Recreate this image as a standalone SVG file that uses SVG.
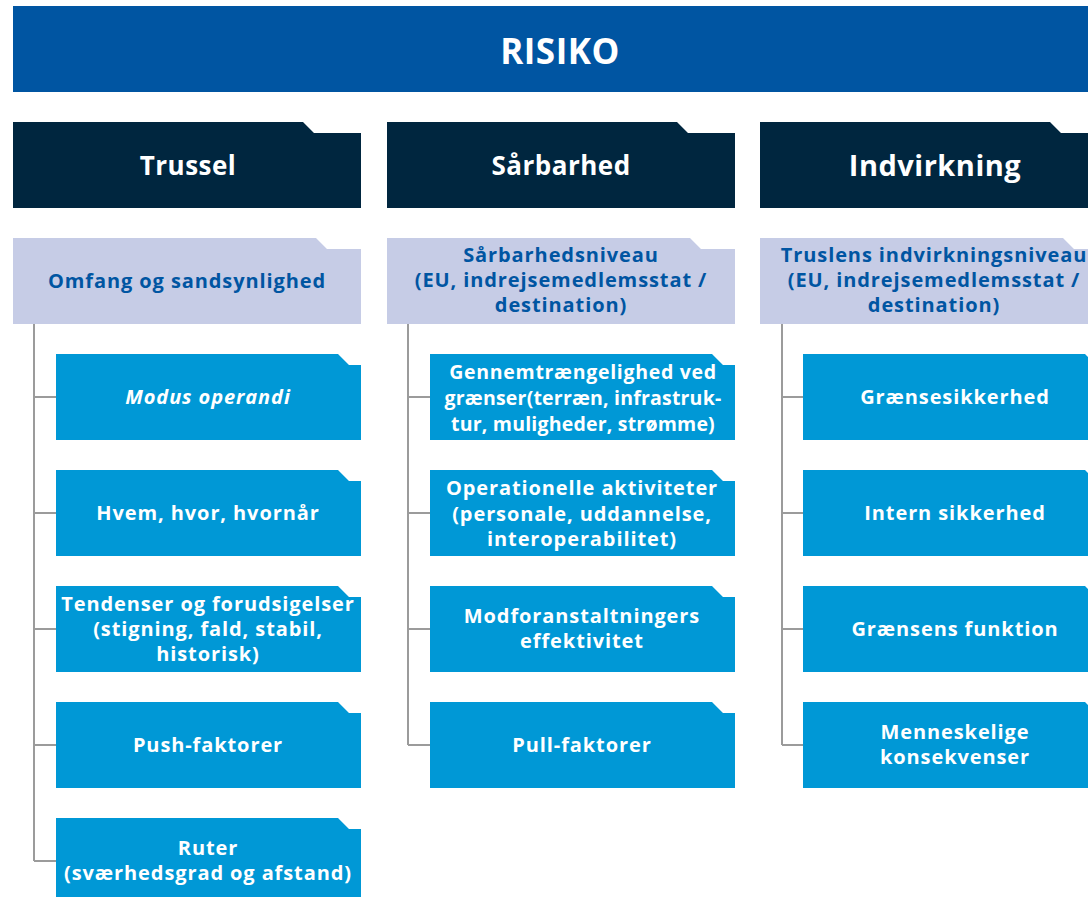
<svg xmlns="http://www.w3.org/2000/svg" xmlns:xlink="http://www.w3.org/1999/xlink" width="1088" height="897" viewBox="0 0 1088 897">
<style>
text{font-family:"Open Sans","Noto Sans","Liberation Sans",sans-serif;font-weight:700;text-anchor:middle}
.banner{fill:#0055A2}
.hdr{fill:#00263F}
.sub{fill:#C6CCE6}
.child{fill:#0098D6}
.t-banner{fill:#fff;font-size:35px;letter-spacing:0.5px}
.t-hdr{fill:#fff;font-size:26px;letter-spacing:0.5px}
.t-sub{fill:#0055A2;font-size:20px;letter-spacing:0.9px}
.t-child{fill:#fff;font-size:20px;letter-spacing:0.9px}
.tight{font-size:19.5px;letter-spacing:0.2px}
.conn{stroke:#9B9B9B;stroke-width:2;fill:none}
</style>
<defs>
<path id="hdrShape" d="M0,0 H290 L301,11 H348 V86 H0 Z"/>
<path id="subShape" d="M0,0 H303 L314,11 H348 V86 H0 Z"/>
<path id="childShape" d="M0,0 H282 L293,11 H305 V86 H0 Z"/>
</defs>
<rect width="1088" height="897" fill="#fff"/>

<g id="connectors">
<path class="conn" d="M34,324 V861 M34,397 H56 M34,513 H56 M34,629 H56 M34,745 H56 M34,861 H56"/>
<path class="conn" d="M408,324 V745 M408,397 H430 M408,513 H430 M408,629 H430 M408,745 H430"/>
<path class="conn" d="M782,324 V745 M782,397 H803 M782,513 H803 M782,629 H803 M782,745 H803"/>
</g>

<g id="risiko">
<rect class="banner" x="13" y="6" width="1094" height="86"/>
<text class="t-banner" x="560" y="64">RISIKO</text>
</g>

<g id="trussel">
<use xlink:href="#hdrShape" class="hdr" x="13" y="122"/>
<text class="t-hdr" x="188" y="175">Trussel</text>
</g>
<g id="saarbarhed">
<use xlink:href="#hdrShape" class="hdr" x="387" y="122"/>
<text class="t-hdr" x="561" y="175">Sårbarhed</text>
</g>
<g id="indvirkning">
<use xlink:href="#hdrShape" class="hdr" x="760" y="122"/>
<text class="t-hdr" x="935" y="176" style="font-size:29px">Indvirkning</text>
</g>

<g id="omfang">
<use xlink:href="#subShape" class="sub" x="13" y="238"/>
<text class="t-sub" x="187" y="288">Omfang og sandsynlighed</text>
</g>
<g id="saarbarhedsniveau">
<use xlink:href="#subShape" class="sub" x="387" y="238"/>
<text class="t-sub" x="561" y="262">Sårbarhedsniveau</text>
<text class="t-sub" x="561" y="287">(EU, indrejsemedlemsstat /</text>
<text class="t-sub" x="561" y="312">destination)</text>
</g>
<g id="indvirkningsniveau">
<use xlink:href="#subShape" class="sub" x="760" y="238"/>
<text class="t-sub" x="934" y="262">Truslens indvirkningsniveau</text>
<text class="t-sub" x="934" y="287">(EU, indrejsemedlemsstat /</text>
<text class="t-sub" x="934" y="312">destination)</text>
</g>

<g id="modus">
<use xlink:href="#childShape" class="child" x="56" y="354"/>
<text class="t-child" x="208" y="404" font-style="italic">Modus operandi</text>
</g>
<g id="hvem">
<use xlink:href="#childShape" class="child" x="56" y="470"/>
<text class="t-child" x="208" y="520">Hvem, hvor, hvornår</text>
</g>
<g id="tendenser">
<use xlink:href="#childShape" class="child" x="56" y="586"/>
<text class="t-child" x="208" y="611">Tendenser og forudsigelser</text>
<text class="t-child" x="208" y="636">(stigning, fald, stabil,</text>
<text class="t-child" x="208" y="661">historisk)</text>
</g>
<g id="push">
<use xlink:href="#childShape" class="child" x="56" y="702"/>
<text class="t-child" x="208" y="752">Push-faktorer</text>
</g>
<g id="ruter">
<use xlink:href="#childShape" class="child" x="56" y="818"/>
<text class="t-child" x="208" y="855">Ruter</text>
<text class="t-child" x="208" y="880">(sværhedsgrad og afstand)</text>
</g>

<g id="gennemtraengelighed">
<use xlink:href="#childShape" class="child" x="430" y="354"/>
<text class="t-child tight" x="583" y="379" style="letter-spacing:0.7px">Gennemtrængelighed ved</text>
<text class="t-child tight" x="583" y="405">grænser(terræn, infrastruk-</text>
<text class="t-child tight" x="583" y="431">tur, muligheder, strømme)</text>
</g>
<g id="operationelle">
<use xlink:href="#childShape" class="child" x="430" y="470"/>
<text class="t-child" x="582" y="495">Operationelle aktiviteter</text>
<text class="t-child" x="582" y="521">(personale, uddannelse,</text>
<text class="t-child" x="582" y="546">interoperabilitet)</text>
</g>
<g id="modforanstaltninger">
<use xlink:href="#childShape" class="child" x="430" y="586"/>
<text class="t-child" x="582" y="623">Modforanstaltningers</text>
<text class="t-child" x="582" y="648">effektivitet</text>
</g>
<g id="pull">
<use xlink:href="#childShape" class="child" x="430" y="702"/>
<text class="t-child" x="582" y="752">Pull-faktorer</text>
</g>

<g id="graensesikkerhed">
<use xlink:href="#childShape" class="child" x="803" y="354"/>
<text class="t-child" x="955" y="404">Grænsesikkerhed</text>
</g>
<g id="intern">
<use xlink:href="#childShape" class="child" x="803" y="470"/>
<text class="t-child" x="955" y="520">Intern sikkerhed</text>
</g>
<g id="funktion">
<use xlink:href="#childShape" class="child" x="803" y="586"/>
<text class="t-child" x="955" y="636">Grænsens funktion</text>
</g>
<g id="menneskelige">
<use xlink:href="#childShape" class="child" x="803" y="702"/>
<text class="t-child" x="955" y="739">Menneskelige</text>
<text class="t-child" x="955" y="764">konsekvenser</text>
</g>
</svg>
